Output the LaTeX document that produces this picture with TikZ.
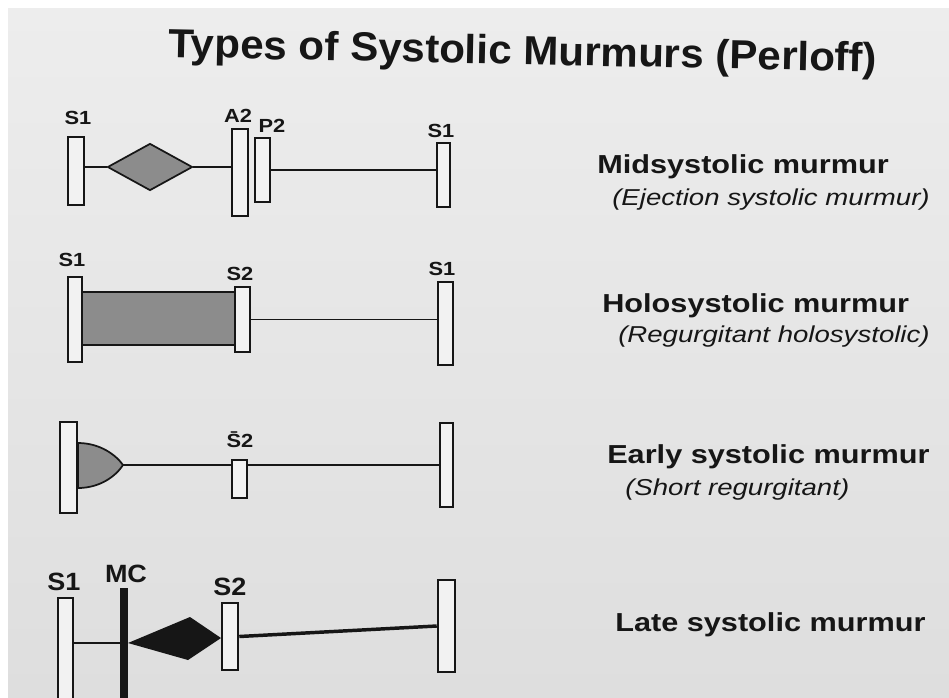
\documentclass[tikz,border=0pt]{standalone}
\usepackage{fontspec}
\setmainfont{Liberation Sans}
\usepackage{xcolor}
\usepackage{tikz}
\usetikzlibrary{positioning,shapes.geometric}

\definecolor{paper}{HTML}{DEDEDE}
\definecolor{paperlight}{HTML}{EDEDED}
\definecolor{barfill}{HTML}{F2F2F2}
\definecolor{murmurgray}{HTML}{8C8C8C}
\definecolor{ink}{HTML}{161616}

\newcommand{\xsc}[2]{\scalebox{#1}[1]{#2}}

\begin{document}
\begin{tikzpicture}[
  x=0.75pt, y=-0.75pt,
  bar/.style={
    draw=ink,
    fill=barfill,
    line width=1.5pt,
    inner sep=0pt,
    minimum width=11.25pt
  },
  heavybar/.style={bar, line width=1.9pt},
  murmur/.style={draw=ink, fill=murmurgray, line width=1.3pt, inner sep=0pt},
  sound/.style={font=\fontsize{14.25}{15}\selectfont\bfseries, text=ink, inner sep=0pt},
  bigsound/.style={font=\fontsize{18.75}{19}\selectfont\bfseries, text=ink, inner sep=0pt},
  typename/.style={font=\fontsize{19.5}{20}\selectfont\bfseries, text=ink, anchor=base west, inner sep=0pt},
  typenote/.style={font=\fontsize{17.25}{18}\selectfont\itshape, text=ink, anchor=base west, inner sep=0pt},
  link/.style={draw=ink, line width=1.4pt},
  heavylink/.style={draw=ink, line width=2.6pt}
]
\useasboundingbox (0,0) rectangle (949,697);
\fill[white] (0,0) rectangle (949,697);
\shade[top color=paperlight, bottom color=paper] (8,8) rectangle (949,697);

\node[font=\fontsize{30.4}{32}\selectfont\bfseries, text=ink, anchor=base west, inner sep=0pt, rotate=-1.2]
  (title) at (168,57) {\xsc{1.04}{Types of Systolic Murmurs (Perloff)}};

\node[bar, minimum width=12pt, minimum height=51pt] (midS1) at (76,171) {};
\node[murmur, diamond, minimum width=63.75pt, minimum height=35.25pt] (midMurmur) at (150,167) {};
\node[bar, minimum width=12pt, minimum height=65.25pt] (midA2) at (240,172.5) {};
\node[bar, minimum height=48pt] (midP2) at (262.5,170) {};
\node[bar, minimum width=9.75pt, minimum height=48pt] (midS1end) at (443.5,175) {};
\draw[link] (midS1.east |- midMurmur.west) -- (midMurmur.west);
\draw[link] (midMurmur.east) -- (midMurmur.east -| midA2.west);
\draw[link] (midP2.east) -- (midP2.east -| midS1end.west);
\node[sound] (midS1lbl) at (78,118) {\xsc{1.15}{S1}};
\node[sound] (midA2lbl) at (238,116) {\xsc{1.15}{A2}};
\node[sound] (midP2lbl) at (272,126) {\xsc{1.15}{P2}};
\node[sound] (midS1endlbl) at (441,131) {\xsc{1.15}{S1}};

\node[murmur, minimum width=114.75pt, minimum height=39.75pt] (holoMurmur) at (158.5,318.5) {};
\node[bar, minimum width=10.5pt, minimum height=63.75pt] (holoS1) at (75,319.5) {};
\node[bar, minimum height=48.75pt] (holoS2) at (242.5,319.5) {};
\node[bar, minimum height=62.25pt] (holoS1end) at (445.5,323.5) {};
\draw[link, line width=1.1pt] (holoS2.east) -- (holoS2.east -| holoS1end.west);
\node[sound] (holoS1lbl) at (72,260) {\xsc{1.15}{S1}};
\node[sound] (holoS2lbl) at (240,274) {\xsc{1.15}{S2}};
\node[sound] (holoS1endlbl) at (442,269) {\xsc{1.15}{S1}};

\node[bar, minimum width=12.75pt, minimum height=68.25pt] (earlyS1) at (68.5,467.5) {};
\coordinate (earlyTip) at (123,465);
\filldraw[murmur] (earlyS1.east |- 0,443) .. controls (100,443) and (116,455) .. (earlyTip)
  .. controls (116,476) and (100,488) .. (earlyS1.east |- 0,488) -- cycle;
\node[bar, minimum height=28.5pt] (earlyS2) at (239.5,479) {};
\node[bar, minimum width=9.75pt, minimum height=63pt] (earlyS1end) at (446.5,465) {};
\draw[link] (earlyTip) -- (earlyTip -| earlyS2.west);
\draw[link] (earlyTip -| earlyS2.east) -- (earlyTip -| earlyS1end.west);
\node[sound] (earlyS2lbl) at (240,440) {\xsc{1.15}{\=S2}};

\node[heavybar, minimum height=84pt] (lateS1) at (65.5,654) {};
\node[fill=ink, inner sep=0pt, minimum width=6pt, minimum height=91.5pt] (lateMC) at (124,649) {};
\coordinate (kiteL) at (128,643);
\coordinate (kiteT) at (190,617);
\coordinate (kiteR) at (221,638);
\coordinate (kiteB) at (188,660);
\fill[ink] (kiteL) -- (kiteT) -- (kiteR) -- (kiteB) -- cycle;
\node[heavybar, minimum width=12pt, minimum height=50.25pt] (lateS2) at (230,636.5) {};
\node[heavybar, minimum width=12.75pt, minimum height=69pt] (lateS1end) at (446.5,626) {};
\draw[heavylink, line width=2pt] (lateS1.east |- kiteL) -- (lateMC.west |- kiteL);
\draw[heavylink] (lateS2.east) -- (lateS1end.west);
\node[bigsound] (lateS1lbl) at (64,582) {\xsc{1.08}{S1}};
\node[bigsound] (lateMClbl) at (126,574) {\xsc{1.08}{MC}};
\node[bigsound] (lateS2lbl) at (230,587) {\xsc{1.08}{S2}};

\node[typename] (midName) at (597,173) {\xsc{1.18}{Midsystolic murmur}};
\node[typenote] (midNote) at (612,205) {\xsc{1.2}{(Ejection systolic murmur)}};
\node[typename] (holoName) at (602,312) {\xsc{1.18}{Holosystolic murmur}};
\node[typenote] (holoNote) at (618,342) {\xsc{1.2}{(Regurgitant holosystolic)}};
\node[typename] (earlyName) at (607,463) {\xsc{1.18}{Early systolic murmur}};
\node[typenote] (earlyNote) at (625,495) {\xsc{1.2}{(Short regurgitant)}};
\node[typename] (lateName) at (615,631) {\xsc{1.18}{Late systolic murmur}};
\end{tikzpicture}
\end{document}
